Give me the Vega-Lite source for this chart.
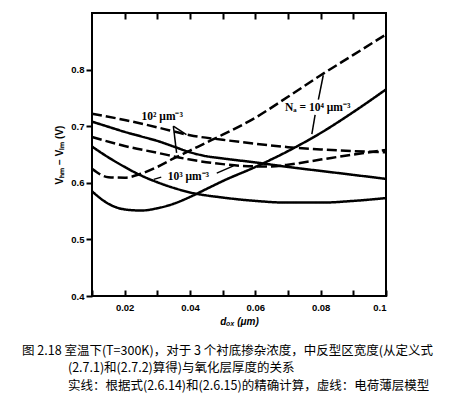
{
  "$schema": "https://vega.github.io/schema/vega-lite/v6.json",
  "width": 294,
  "height": 283,
  "autosize": {"type": "none"},
  "padding": {"left": 92, "top": 13, "right": 68, "bottom": 102},
  "background": "white",
  "config": {
    "view": {"stroke": "black", "strokeWidth": 2},
    "axis": {
      "domain": false,
      "grid": false,
      "labelFont": "Liberation Sans",
      "labelFontWeight": "bold",
      "labelFontSize": 9.5,
      "labelColor": "black",
      "tickColor": "black",
      "tickWidth": 2,
      "titleColor": "black",
      "titleFont": "Liberation Sans",
      "titleFontWeight": "bold",
      "titleFontSize": 10
    }
  },
  "title": {
    "text": [
      "图 2.18 室温下(T=300K)，对于 3 个衬底掺杂浓度，中反型区宽度(从定义式",
      "\u200b\u3000\u3000\u3000\u00a0\u00a0\u00a0(2.7.1)和(2.7.2)算得)与氧化层厚度的关系",
      "\u200b\u3000\u3000\u3000\u00a0\u00a0\u00a0实线：根据式(2.6.14)和(2.6.15)的精确计算，虚线：电荷薄层模型"
    ],
    "orient": "bottom",
    "anchor": "start",
    "frame": "group",
    "dx": -70,
    "offset": 18,
    "font": "Noto Sans CJK SC",
    "fontSize": 12.5,
    "fontWeight": "normal",
    "lineHeight": 17.5,
    "color": "black"
  },
  "resolve": {"axis": {"x": "independent", "y": "independent"}},
  "layer": [
    {
      "data": {
        "values": [
          {"s": "A", "m": "dashed", "x": 0.01, "y": 0.722},
          {"s": "A", "m": "dashed", "x": 0.02, "y": 0.711},
          {"s": "A", "m": "dashed", "x": 0.03, "y": 0.698},
          {"s": "A", "m": "dashed", "x": 0.04, "y": 0.684},
          {"s": "A", "m": "dashed", "x": 0.05, "y": 0.676},
          {"s": "A", "m": "dashed", "x": 0.06, "y": 0.669},
          {"s": "A", "m": "dashed", "x": 0.07, "y": 0.663},
          {"s": "A", "m": "dashed", "x": 0.08, "y": 0.659},
          {"s": "A", "m": "dashed", "x": 0.09, "y": 0.656},
          {"s": "A", "m": "dashed", "x": 0.1, "y": 0.654},
          {"s": "B", "m": "solid", "x": 0.01, "y": 0.708},
          {"s": "B", "m": "solid", "x": 0.015, "y": 0.699},
          {"s": "B", "m": "solid", "x": 0.02, "y": 0.69},
          {"s": "B", "m": "solid", "x": 0.025, "y": 0.682},
          {"s": "B", "m": "solid", "x": 0.03, "y": 0.674},
          {"s": "B", "m": "solid", "x": 0.035, "y": 0.664},
          {"s": "B", "m": "solid", "x": 0.04, "y": 0.654},
          {"s": "B", "m": "solid", "x": 0.045, "y": 0.647},
          {"s": "B", "m": "solid", "x": 0.05, "y": 0.643},
          {"s": "B", "m": "solid", "x": 0.06, "y": 0.636},
          {"s": "B", "m": "solid", "x": 0.07, "y": 0.628},
          {"s": "B", "m": "solid", "x": 0.08, "y": 0.621},
          {"s": "B", "m": "solid", "x": 0.09, "y": 0.614},
          {"s": "B", "m": "solid", "x": 0.1, "y": 0.607},
          {"s": "C", "m": "dashed", "x": 0.01, "y": 0.681},
          {"s": "C", "m": "dashed", "x": 0.02, "y": 0.665},
          {"s": "C", "m": "dashed", "x": 0.03, "y": 0.653},
          {"s": "C", "m": "dashed", "x": 0.04, "y": 0.641},
          {"s": "C", "m": "dashed", "x": 0.05, "y": 0.633},
          {"s": "C", "m": "dashed", "x": 0.06, "y": 0.629},
          {"s": "C", "m": "dashed", "x": 0.065, "y": 0.629},
          {"s": "C", "m": "dashed", "x": 0.07, "y": 0.632},
          {"s": "C", "m": "dashed", "x": 0.08, "y": 0.641},
          {"s": "C", "m": "dashed", "x": 0.09, "y": 0.65},
          {"s": "C", "m": "dashed", "x": 0.1, "y": 0.658},
          {"s": "D", "m": "solid", "x": 0.01, "y": 0.664},
          {"s": "D", "m": "solid", "x": 0.015, "y": 0.645},
          {"s": "D", "m": "solid", "x": 0.02, "y": 0.628},
          {"s": "D", "m": "solid", "x": 0.025, "y": 0.613},
          {"s": "D", "m": "solid", "x": 0.03, "y": 0.601},
          {"s": "D", "m": "solid", "x": 0.035, "y": 0.591},
          {"s": "D", "m": "solid", "x": 0.04, "y": 0.583},
          {"s": "D", "m": "solid", "x": 0.05, "y": 0.574},
          {"s": "D", "m": "solid", "x": 0.06, "y": 0.568},
          {"s": "D", "m": "solid", "x": 0.07, "y": 0.565},
          {"s": "D", "m": "solid", "x": 0.08, "y": 0.565},
          {"s": "D", "m": "solid", "x": 0.09, "y": 0.568},
          {"s": "D", "m": "solid", "x": 0.1, "y": 0.573},
          {"s": "E", "m": "dashed", "x": 0.01, "y": 0.625},
          {"s": "E", "m": "dashed", "x": 0.015, "y": 0.61},
          {"s": "E", "m": "dashed", "x": 0.02, "y": 0.609},
          {"s": "E", "m": "dashed", "x": 0.025, "y": 0.616},
          {"s": "E", "m": "dashed", "x": 0.03, "y": 0.628},
          {"s": "E", "m": "dashed", "x": 0.035, "y": 0.643},
          {"s": "E", "m": "dashed", "x": 0.04, "y": 0.657},
          {"s": "E", "m": "dashed", "x": 0.045, "y": 0.671},
          {"s": "E", "m": "dashed", "x": 0.05, "y": 0.685},
          {"s": "E", "m": "dashed", "x": 0.06, "y": 0.715},
          {"s": "E", "m": "dashed", "x": 0.07, "y": 0.752},
          {"s": "E", "m": "dashed", "x": 0.08, "y": 0.79},
          {"s": "E", "m": "dashed", "x": 0.09, "y": 0.826},
          {"s": "E", "m": "dashed", "x": 0.1, "y": 0.862},
          {"s": "F", "m": "solid", "x": 0.01, "y": 0.585},
          {"s": "F", "m": "solid", "x": 0.015, "y": 0.563},
          {"s": "F", "m": "solid", "x": 0.02, "y": 0.553},
          {"s": "F", "m": "solid", "x": 0.025, "y": 0.551},
          {"s": "F", "m": "solid", "x": 0.03, "y": 0.555},
          {"s": "F", "m": "solid", "x": 0.035, "y": 0.563},
          {"s": "F", "m": "solid", "x": 0.04, "y": 0.575},
          {"s": "F", "m": "solid", "x": 0.045, "y": 0.589},
          {"s": "F", "m": "solid", "x": 0.05, "y": 0.603},
          {"s": "F", "m": "solid", "x": 0.06, "y": 0.628},
          {"s": "F", "m": "solid", "x": 0.07, "y": 0.656},
          {"s": "F", "m": "solid", "x": 0.08, "y": 0.688},
          {"s": "F", "m": "solid", "x": 0.09, "y": 0.725},
          {"s": "F", "m": "solid", "x": 0.1, "y": 0.765}
        ]
      },
      "mark": {"type": "line", "color": "black", "strokeWidth": 2.5, "interpolate": "monotone"},
      "encoding": {
        "x": {
          "field": "x",
          "type": "quantitative",
          "scale": {"domain": [0.01, 0.1], "nice": false, "zero": false},
          "axis": {
            "orient": "bottom",
            "values": [0.01, 0.02, 0.03, 0.04, 0.05, 0.06, 0.07, 0.08, 0.09, 0.1],
            "tickSize": -6,
            "labelPadding": 12,
            "format": ".2~f",
            "labelExpr": "indexof(['0.02','0.04','0.06','0.08','0.1'], datum.label) >= 0 ? datum.label : ''",
            "title": "dₒₓ (μm)",
            "titleFontStyle": "italic",
            "titlePadding": 5
          }
        },
        "y": {
          "field": "y",
          "type": "quantitative",
          "scale": {"domain": [0.4, 0.9], "nice": false, "zero": false},
          "axis": {
            "values": [0.4, 0.5, 0.6, 0.7, 0.8],
            "format": ".1f",
            "tickSize": 6,
            "labelPadding": 2,
            "title": "Vₕₘ − Vₗₘ (V)",
            "titlePadding": 6
          }
        },
        "detail": {"field": "s"},
        "strokeDash": {
          "field": "m",
          "type": "nominal",
          "scale": {"domain": ["solid", "dashed"], "range": [[1, 0], [10, 4]]},
          "legend": null
        }
      }
    },
    {
      "data": {
        "values": [
          {"x": 0.0349, "y": 0.7, "x2": 0.0389, "y2": 0.685},
          {"x": 0.0349, "y": 0.7, "x2": 0.0359, "y2": 0.653},
          {"x": 0.0289, "y": 0.606, "x2": 0.0312, "y2": 0.61},
          {"x": 0.0482, "y": 0.617, "x2": 0.0533, "y2": 0.63},
          {"x": 0.0808, "y": 0.79, "x2": 0.0793, "y2": 0.747},
          {"x": 0.0783, "y": 0.72, "x2": 0.0773, "y2": 0.686}
        ]
      },
      "mark": {"type": "rule", "color": "black", "strokeWidth": 1.5},
      "encoding": {
        "x": {
          "field": "x",
          "type": "quantitative",
          "scale": {"domain": [0.01, 0.1], "nice": false, "zero": false},
          "axis": {
            "orient": "top",
            "values": [0.02, 0.03, 0.04, 0.05, 0.06, 0.07, 0.08, 0.09],
            "tickSize": -6,
            "labels": false,
            "title": null
          }
        },
        "y": {"field": "y", "type": "quantitative", "axis": null},
        "x2": {"field": "x2"},
        "y2": {"field": "y2"}
      }
    },
    {
      "data": {
        "values": [
          {"t": "10² μm⁻³", "x": 0.0315, "y": 0.717},
          {"t": "10³ μm⁻³", "x": 0.0395, "y": 0.611},
          {"t": "Nₐ = 10⁴ μm⁻³", "x": 0.0791, "y": 0.732}
        ]
      },
      "mark": {"type": "text", "font": "Liberation Serif", "fontSize": 11.5, "fontWeight": "bold", "color": "black"},
      "encoding": {
        "x": {"field": "x", "type": "quantitative", "axis": null},
        "y": {"field": "y", "type": "quantitative", "axis": null},
        "text": {"field": "t"}
      }
    }
  ]
}
